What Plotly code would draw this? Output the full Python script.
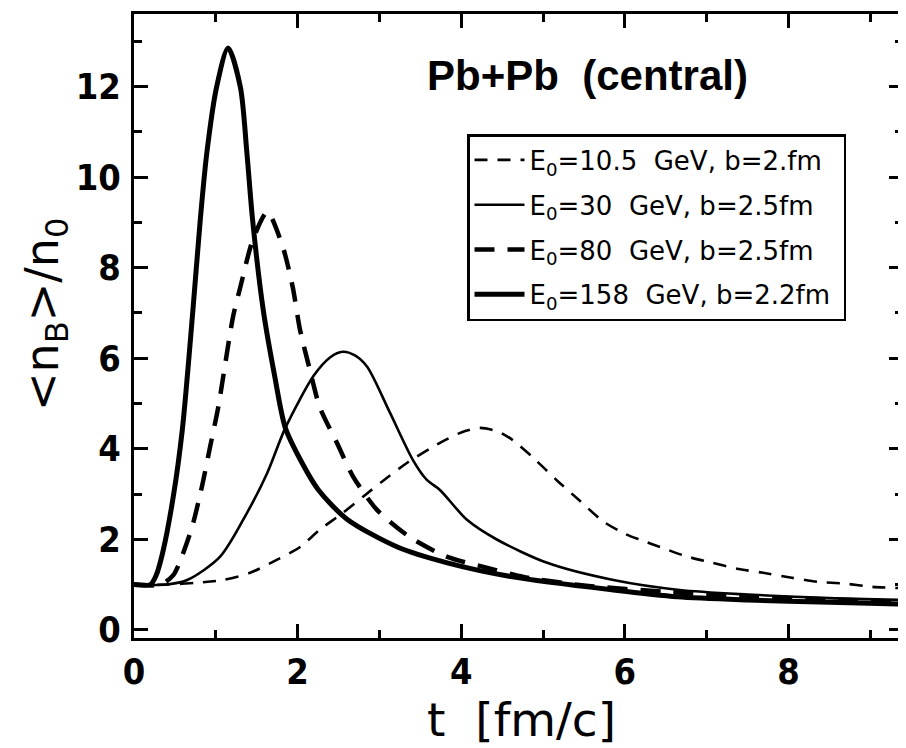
import plotly.graph_objects as go

# ---- data ----
t_105 = [0, 0.4, 0.77, 1.09, 1.42, 1.75, 2.03, 2.27, 2.55, 2.8, 3.05, 3.34, 3.74, 4.0, 4.23, 4.45, 4.63, 4.88, 5.17, 5.45, 5.73, 6.0, 6.2, 6.43, 6.74, 7.07, 7.37, 7.69, 8.04, 8.36, 8.69, 9.02, 9.4]
n_105 = [1.0, 1.0, 1.04, 1.1, 1.26, 1.55, 1.83, 2.21, 2.58, 2.94, 3.3, 3.69, 4.13, 4.36, 4.46, 4.38, 4.19, 3.8, 3.3, 2.85, 2.4, 2.12, 1.98, 1.83, 1.63, 1.48, 1.35, 1.26, 1.15, 1.06, 1.02, 0.95, 0.92]

t_30 = [0, 0.4, 0.65, 1.05, 1.38, 1.63, 1.85, 2.2, 2.4, 2.55, 2.7, 2.85, 3.13, 3.41, 3.58, 3.74, 4.07, 4.44, 5.05, 5.86, 6.67, 7.5, 8.5, 9.4]
n_30 = [1.0, 1.0, 1.1, 1.61, 2.58, 3.47, 4.46, 5.62, 6.02, 6.14, 6.06, 5.81, 4.79, 3.75, 3.31, 3.09, 2.43, 1.99, 1.48, 1.1, 0.88, 0.78, 0.7, 0.66]

t_80 = [0, 0.33, 0.48, 0.56, 0.71, 0.83, 0.93, 1.03, 1.21, 1.3, 1.45, 1.63, 1.82, 1.94, 2.03, 2.15, 2.27, 2.48, 2.68, 2.97, 3.37, 3.83, 4.32, 4.76, 5.5, 6.5, 7.5, 8.5, 9.4]
n_80 = [1.0, 1.0, 1.21, 1.5, 2.27, 3.16, 4.04, 4.92, 6.91, 7.57, 8.6, 9.23, 8.45, 7.57, 6.62, 5.74, 4.92, 4.13, 3.38, 2.65, 2.05, 1.61, 1.37, 1.17, 0.98, 0.84, 0.74, 0.67, 0.62]

t_158 = [0, 0.2, 0.27, 0.35, 0.48, 0.59, 0.72, 0.81, 0.89, 1.01, 1.15, 1.30, 1.38, 1.45, 1.58, 1.72, 1.85, 2.05, 2.25, 2.6, 3.22, 3.83, 4.63, 5.86, 6.64, 7.5, 8.5, 9.4]
n_158 = [1.0, 1.0, 1.2, 1.7, 2.94, 4.41, 7.06, 9.05, 10.53, 11.99, 12.85, 11.99, 10.53, 9.05, 7.06, 5.6, 4.46, 3.7, 3.1, 2.45, 1.83, 1.48, 1.17, 0.88, 0.73, 0.66, 0.61, 0.57]

labels = [
    "E<sub>0</sub>=10.5  GeV, b=2.fm",
    "E<sub>0</sub>=30  GeV, b=2.5fm",
    "E<sub>0</sub>=80  GeV, b=2.5fm",
    "E<sub>0</sub>=158  GeV, b=2.2fm",
]

x_ticks = [0, 2, 4, 6, 8]
y_ticks = [0, 2, 4, 6, 8, 10, 12]

fig = go.Figure()
fig.add_trace(go.Scatter(x=t_105, y=n_105, mode="lines", name=labels[0] + "\u00a0", legendgroup="a",
                         line=dict(color="black", width=2.6, dash="13px,10px", shape="spline", smoothing=0.7)))
fig.add_trace(go.Scatter(x=t_30, y=n_30, mode="lines", name=labels[1], legendgroup="b",
                         line=dict(color="black", width=2.6, shape="spline", smoothing=0.8)))
fig.add_trace(go.Scatter(x=t_80, y=n_80, mode="lines", name=labels[2], legendgroup="c",
                         line=dict(color="black", width=4.5, dash="20px,13px", shape="spline", smoothing=0.7)))
fig.add_trace(go.Scatter(x=t_158, y=n_158, mode="lines", name=labels[3] + "\u00a0", legendgroup="d",
                         line=dict(color="black", width=5, shape="spline", smoothing=0.8)))

tickfont = dict(family="Liberation Sans Narrow, DejaVu Sans Condensed, Liberation Sans, sans-serif",
                size=36, color="black", weight="bold")

axis_common = dict(
    showgrid=False, zeroline=False, showline=True, linecolor="black", linewidth=3,
    mirror="allticks", ticks="inside", ticklen=14, tickwidth=2.5, tickcolor="black",
    tickfont=tickfont, automargin=False,
)

fig.update_xaxes(range=[0, 9.4], tickvals=x_ticks, ticklabelstandoff=0,
                 minor=dict(dtick=1, ticks="inside", ticklen=8, tickwidth=2.5, tickcolor="black"),
                 **axis_common)
fig.update_yaxes(range=[-0.18, 13.6], tickvals=y_ticks, ticklabelstandoff=3,
                 minor=dict(dtick=1, ticks="inside", ticklen=8, tickwidth=2.5, tickcolor="black"),
                 **axis_common)

# the page body adds an 8px offset; figure is sized so screen = figure + 8
fig.update_layout(
    width=898, height=740,
    margin=dict(l=126, r=3, t=6, b=110, autoexpand=False),
    paper_bgcolor="white", plot_bgcolor="white",
    showlegend=True,
    legend=dict(x=(467 - 134) / 769, y=1 - (134 - 14) / 624, xanchor="left", yanchor="top",
                bordercolor="black", borderwidth=2.5, bgcolor="white",
                font=dict(family="DejaVu Sans", size=26, color="black"),
                itemwidth=50, tracegroupgap=8),
    annotations=[
        dict(text="<b>Pb+Pb  (central)</b>", xref="paper", yref="paper",
             x=(587 - 134) / 769, y=1 - (75 - 14) / 624, xanchor="center", yanchor="middle", showarrow=False,
             font=dict(family="Liberation Sans, Arial, sans-serif", size=42, color="black")),
        dict(text="t  [fm/c]", xref="paper", yref="paper",
             x=(521 - 134) / 769, y=-(719 - 638) / 624, xanchor="center", yanchor="middle", showarrow=False,
             font=dict(family="DejaVu Sans", size=47, color="black")),
        dict(text="&lt;n<sub>B</sub>&gt;/n<sub>0</sub>", xref="paper", yref="paper", textangle=-90,
             x=(45 - 134) / 769, y=1 - (315 - 14) / 624, xanchor="center", yanchor="middle", showarrow=False,
             font=dict(family="DejaVu Sans", size=46, color="black")),
    ],
)

fig.write_html("out.html")
